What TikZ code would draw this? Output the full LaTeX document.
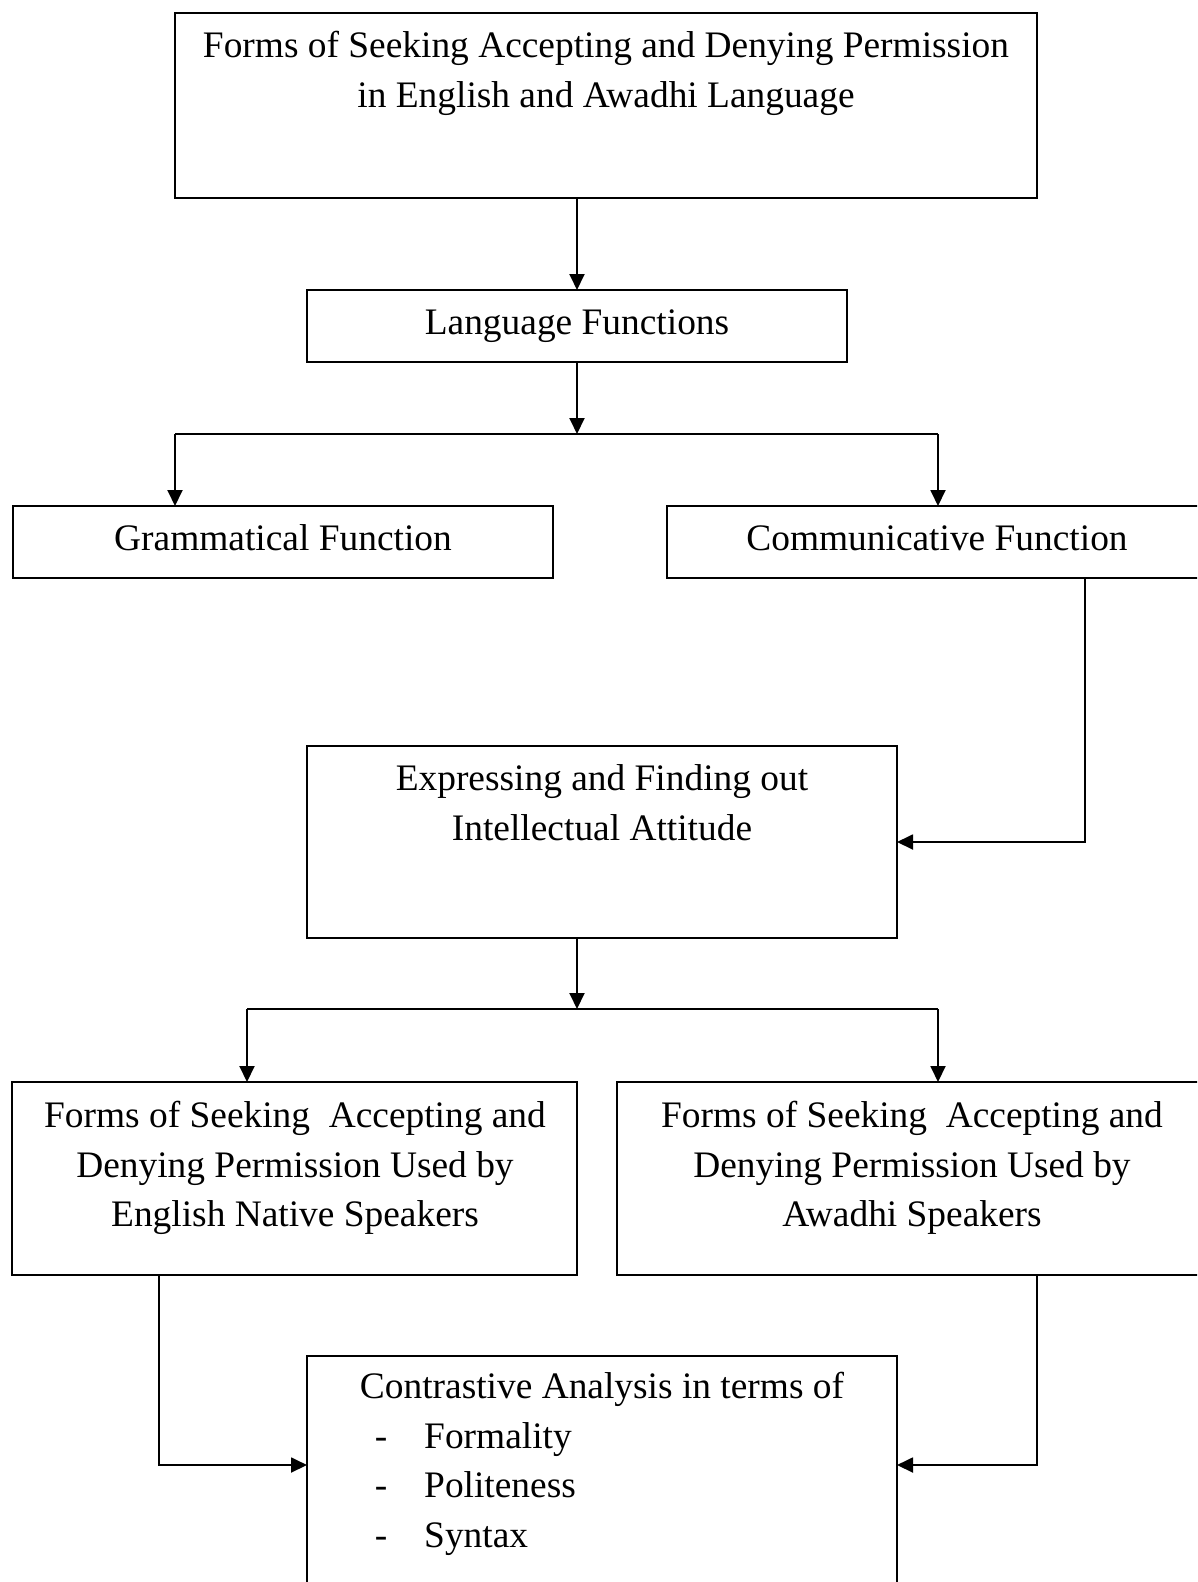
\documentclass[tikz,border=0pt]{standalone}
\usepackage{fontspec}
\setmainfont{Liberation Serif}
\usetikzlibrary{arrows.meta}
\begin{document}
\begin{tikzpicture}[x=1pt,y=-1pt,
  box/.style={draw,line width=1.9pt,inner sep=0pt,outer sep=0pt,anchor=north west},
  txt/.style={anchor=base,inner sep=0pt,font=\fontsize{37.4}{50}\selectfont},
  ltxt/.style={anchor=base west,inner sep=0pt,font=\fontsize{37.4}{50}\selectfont},
  link/.style={line width=1.9pt},
  arr/.style={line width=1.9pt,-{Triangle[length=16pt,width=15pt]}}]
\useasboundingbox (0,0) rectangle (1197,1582);
\clip (0,0) rectangle (1197,1582);
% boxes
\node[box,minimum width=862,minimum height=185] (b1) at (175,13) {};
\node[box,minimum width=540,minimum height=72] (b2) at (307,290) {};
\node[box,minimum width=540,minimum height=72] (b3) at (13,506) {};
\node[box,minimum width=541,minimum height=72] (b4) at (667,506) {};
\node[box,minimum width=590,minimum height=192] (b5) at (307,746) {};
\node[box,minimum width=565,minimum height=193] (b6) at (12,1082) {};
\node[box,minimum width=593,minimum height=193] (b7) at (617,1082) {};
\node[box,minimum width=590,minimum height=260] (b8) at (307,1356) {};
% texts
\node[txt] (t1a) at (606,57) {Forms of Seeking Accepting and Denying Permission};
\node[txt] (t1b) at (606,107) {in English and Awadhi Language};
\node[txt] (t2) at (577,334) {Language Functions};
\node[txt] (t3) at (283,550) {Grammatical Function};
\node[txt] (t4) at (937,550) {Communicative Function};
\node[txt] (t5a) at (602,790) {Expressing and Finding out};
\node[txt] (t5b) at (602,840) {Intellectual Attitude};
\node[txt] (t6a) at (295,1127) {Forms of Seeking\ \ Accepting and};
\node[txt] (t6b) at (295,1177) {Denying Permission Used by};
\node[txt] (t6c) at (295,1226) {English Native Speakers};
\node[txt] (t7a) at (912,1127) {Forms of Seeking\ \ Accepting and};
\node[txt] (t7b) at (912,1177) {Denying Permission Used by};
\node[txt] (t7c) at (912,1226) {Awadhi Speakers};
\node[txt] (t8) at (602,1398) {Contrastive Analysis in terms of};
\node[txt] (d1) at (381,1448) {-};
\node[txt] (d2) at (381,1497) {-};
\node[txt] (d3) at (381,1547) {-};
\node[ltxt] (i1) at (424,1448) {Formality};
\node[ltxt] (i2) at (424,1497) {Politeness};
\node[ltxt] (i3) at (424,1547) {Syntax};
% junctions
\coordinate (j1) at (577,434);
\coordinate (jl) at (175,434);
\coordinate (jr) at (938,434);
\coordinate (k1) at (1085,0);
\coordinate (j2) at (577,1009);
\coordinate (jl2) at (247,1009);
\coordinate (jr2) at (938,1009);
\coordinate (m1) at (159,0);
\coordinate (m2) at (1037,0);
\coordinate (m3) at (0,1465);
% connectors
\draw[arr] (b1.south -| b2.north) -- (b2.north);
\draw[arr] (b2.south) -- (j1);
\draw[link] (jl) -- (jr);
\draw[arr] (jl) -- (jl |- b3.north);
\draw[arr] (jr) -- (jr |- b4.north);
\draw[arr] (b4.south -| k1) |- (b5.east);
\draw[arr] (b5.south -| j2) -- (j2);
\draw[link] (jl2) -- (jr2);
\draw[arr] (jl2) -- (jl2 |- b6.north);
\draw[arr] (jr2) -- (jr2 |- b7.north);
\draw[arr] (b6.south -| m1) |- (b8.west |- m3);
\draw[arr] (b7.south -| m2) |- (b8.east |- m3);
\end{tikzpicture}
\end{document}
